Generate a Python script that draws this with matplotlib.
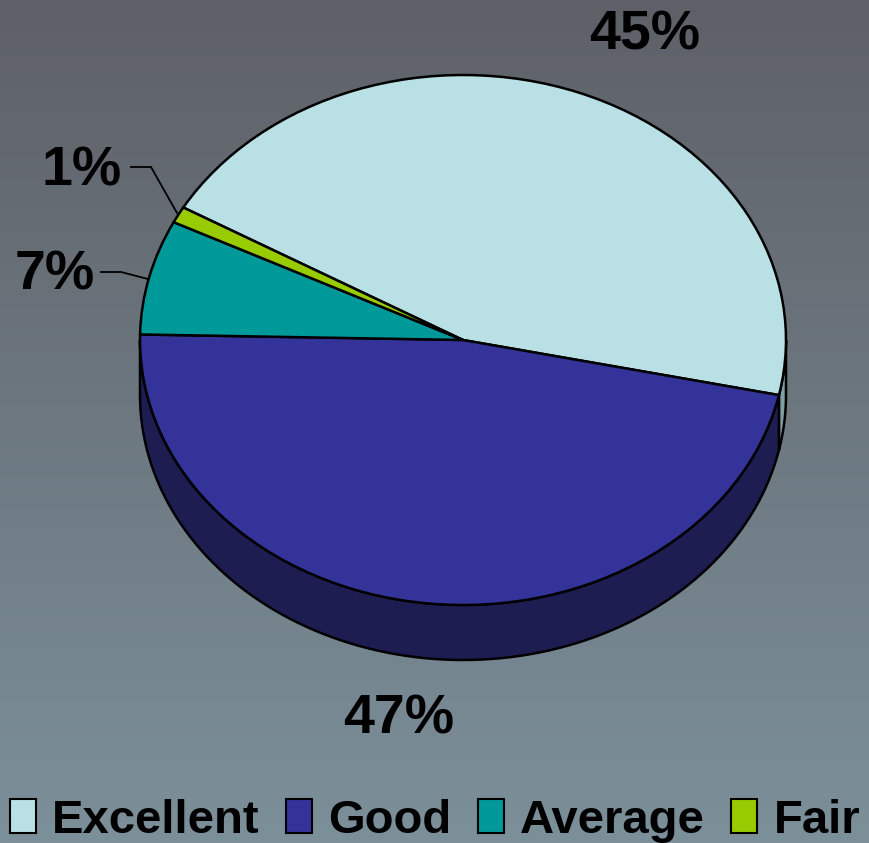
import numpy as np
import matplotlib.pyplot as plt
from matplotlib import font_manager
from matplotlib.transforms import Affine2D
from matplotlib.patches import Polygon, Patch

labels = ['Excellent', 'Good', 'Average', 'Fair']
values = [45, 47, 7, 1]
top_colors = ['#b9e0e4', '#333399', '#009999', '#99cc00']
side_colors = ['#7f9ea3', '#1d1d52', '#006b6b', '#6b8f00']

names = {f.name for f in font_manager.fontManager.ttflist}
fam = 'Liberation Sans Narrow' if 'Liberation Sans Narrow' in names else 'Liberation Sans'

W, H = 870, 843
fig = plt.figure(figsize=(8.7, 8.43), dpi=100)
ax = fig.add_axes([0, 0, 1, 1])
ax.set_xlim(0, W)
ax.set_ylim(0, H)
ax.axis('off')

# background gradient
top = np.array([94, 96, 103]) / 255
bot = np.array([124, 144, 154]) / 255
g = np.linspace(0, 1, 256)[:, None]
grad = top[None, :] * (1 - g) + bot[None, :] * g
ax.imshow(grad[:, None, :].repeat(2, axis=1), extent=[0, W, 0, H], aspect='auto', zorder=0)

cx, cy = 463, 503
rx, ry = 323, 265
depth = 55
tr = Affine2D().scale(rx, ry).translate(cx, cy) + ax.transData

wedges, _ = ax.pie(values, colors=top_colors, startangle=150, counterclock=False,
                   wedgeprops=dict(edgecolor='black', linewidth=1.8))
ax.set_xlim(0, W)
ax.set_ylim(0, H)
ax.set_aspect('auto')
for w in wedges:
    w.set_transform(tr)
    w.set_zorder(3)

# side walls (front half only)
for w, sc in zip(wedges, side_colors):
    a1, a2 = w.theta1, w.theta2
    segs = []
    for off in (-360, 0, 360):
        lo, hi = max(a1 + off, 180), min(a2 + off, 360)
        if lo < hi:
            segs.append((lo, hi))
    for s, e in segs:
        t = np.radians(np.linspace(s, e, 100))
        xs = cx + rx * np.cos(t)
        ys = cy + ry * np.sin(t)
        pts = np.vstack([np.column_stack([xs, ys]),
                         np.column_stack([xs[::-1], ys[::-1] - depth])])
        ax.add_patch(Polygon(pts, closed=True, facecolor=sc, edgecolor='black',
                             linewidth=1.8, zorder=2))

# percentage labels
pct = ['%d%%' % v for v in values]
fs = 40
ax.text(645, H - 36, pct[0], fontsize=fs, fontweight='bold', family=fam,
        ha='center', va='center', zorder=5)
ax.text(399, H - 719, pct[1], fontsize=fs, fontweight='bold', family=fam,
        ha='center', va='center', zorder=5)
ax.text(55, H - 275, pct[2], fontsize=fs, fontweight='bold', family=fam,
        ha='center', va='center', zorder=5)
ax.text(82, H - 172, pct[3], fontsize=fs, fontweight='bold', family=fam,
        ha='center', va='center', zorder=5)

# leader lines
ax.plot([101, 121, 148], [H - 272, H - 272, H - 279], color='black', lw=1.3, zorder=5)
ax.plot([131, 151, 177], [H - 167, H - 167, H - 213], color='black', lw=1.3, zorder=5)

handles = [Patch(facecolor=c, edgecolor='black', linewidth=1.5) for c in top_colors]
leg = fig.legend(handles, labels, loc='lower center', bbox_to_anchor=(0.5, -0.05), ncol=4,
                 frameon=False, prop=dict(family=fam, weight='bold', size=34),
                 handlelength=0.55, handleheight=0.75, handletextpad=0.35, columnspacing=0.55)

fig.savefig('out.png', dpi=100)
